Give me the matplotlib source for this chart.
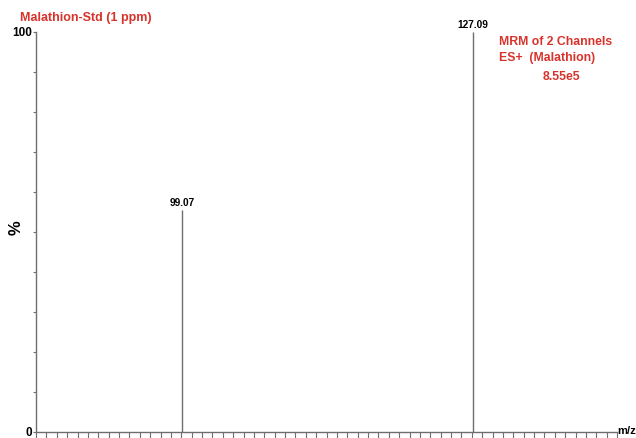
import matplotlib
matplotlib.use("Agg")
import matplotlib.pyplot as plt
import numpy as np

plt.rcParams['font.family'] = ['Liberation Sans', 'DejaVu Sans']

# Spectrum peaks (m/z, relative intensity %)
peak_mz = [99.07, 127.09]
peak_int = [55.5, 100.0]
peak_labels = ["99.07", "127.09"]

x_major = [86, 90, 94, 98, 102, 106, 110, 114, 118, 122, 126, 130, 134, 138]
x_minor = list(range(85, 142))
y_ticks = [0, 10, 20, 30, 40, 50, 60, 70, 80, 90, 100]

title_text = "Malathion-Std (1 ppm)"
info_lines = ["MRM of 2 Channels", "ES+  (Malathion)"]
scale_text = "8.55e5"

red = "#d8332b"
grey = "#6e6e6e"

fig = plt.figure(figsize=(6.36, 4.38), dpi=100)
W, H = 636, 438
ax = fig.add_axes([36 / W, 6 / H, (617 - 36) / W, 400 / H])

ax.vlines(peak_mz, 0, peak_int, color=grey, lw=1.0)
for mz, it, lab in zip(peak_mz, peak_int, peak_labels):
    ax.text(mz, it + 0.6, lab, ha='center', va='bottom', fontsize=7.3,
            fontweight='bold', color='black')

ax.set_xlim(85, 141)
ax.set_ylim(0, 100)

for s in ['top', 'right']:
    ax.spines[s].set_visible(False)
for s in ['left', 'bottom']:
    ax.spines[s].set_color(grey)
    ax.spines[s].set_linewidth(1.0)

ax.set_xticks(x_major)
ax.set_xticklabels([str(v) for v in x_major], fontsize=8, fontweight='bold')
ax.set_xticks(x_minor, minor=True)
ax.tick_params(axis='x', which='both', direction='out', length=4, width=0.8,
               color=grey, pad=1)

ax.set_yticks(y_ticks)
ax.set_yticklabels(["0"] + [""] * 9 + ["100"], fontsize=8.5, fontweight='bold')
ax.tick_params(axis='y', which='both', direction='out', length=2, width=0.8,
               color=grey, pad=0.5)

fig.text(16 / W, 1 - 228 / H, "%", rotation=90, fontsize=12,
         fontweight='bold', ha='center', va='center')

fig.text(20 / W, 1 - 18 / H, title_text, color=red, fontsize=9,
         fontweight='bold', ha='left', va='center')
fig.text(499 / W, 1 - 42 / H, info_lines[0], color=red, fontsize=8.8,
         fontweight='bold', ha='left', va='center')
fig.text(499 / W, 1 - 58 / H, info_lines[1], color=red, fontsize=8.8,
         fontweight='bold', ha='left', va='center')
fig.text(561 / W, 1 - 77 / H, scale_text, color=red, fontsize=8.8,
         fontweight='bold', ha='center', va='center')
fig.text(636 / W, 7 / H, "m/z", color='black', fontsize=8,
         fontweight='bold', ha='right', va='center')

fig.savefig("out.png", dpi=100, facecolor='white')
